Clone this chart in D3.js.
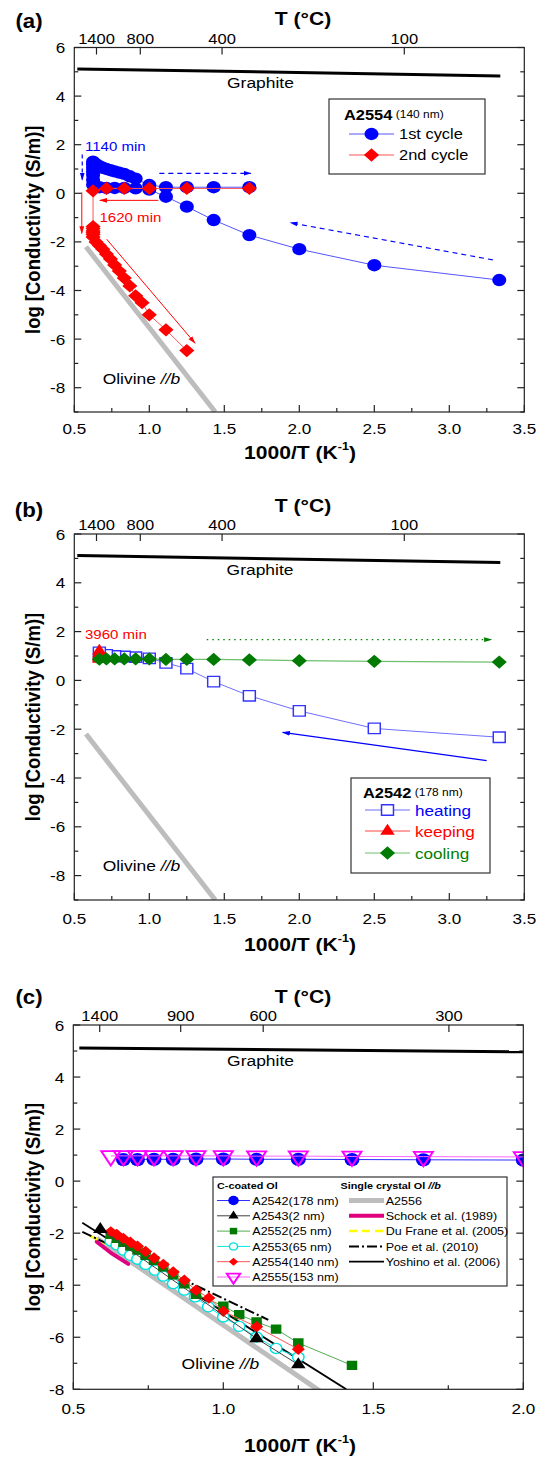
<!DOCTYPE html>
<html lang="en">
<head>
<meta charset="UTF-8">
<title>Conductivity of C-coated olivine</title>
<script src="https://cdn.jsdelivr.net/npm/d3@7"></script>
<style>
    html, body { margin: 0; background: #fff; }
    svg text { font-family: Arial, "Liberation Sans", sans-serif; }
</style>
</head>
<body>
<div id="vis"></div>
<script>
// ---------- data (x = 1000/T in K^-1, y = log conductivity S/m) ----------
var graphiteX = [0.52, 3.34];
var graphiteY = [5.12, 4.83];
var olivineX = [0.578, 1.44];
var olivineY = [-2.2, -9.0];

// top axis, temperature labels and where they sit in 1000/T
var topLabelsAB = ["1400", "800", "400", "100"];
var topValuesAB = [0.648, 0.94, 1.485, 2.70];
var topLabelsC = ["1400", "900", "600", "300"];
var topValuesC = [0.588, 0.858, 1.133, 1.752];

// (a) A2554
var cycle1X = [3.333, 2.5, 2.0, 1.667, 1.429, 1.25, 1.111, 1.0, 0.909, 0.833, 0.769, 0.714, 0.667,
               0.625, 0.625, 0.625, 0.625, 0.625, 0.625, 0.625,
               0.645, 0.667, 0.69, 0.714, 0.741, 0.769, 0.8, 0.833, 0.87, 0.909, 1.0, 1.111, 1.25, 1.429, 1.667];
var cycle1Y = [-3.57, -2.96, -2.3, -1.72, -1.1, -0.55, -0.14, 0.15, 0.2, 0.22, 0.22, 0.22, 0.25,
               0.35, 0.55, 0.75, 0.9, 1.05, 1.2, 1.3,
               1.2, 1.12, 1.05, 1.0, 0.95, 0.9, 0.85, 0.8, 0.7, 0.6, 0.34, 0.25, 0.25, 0.25, 0.25];
var cycle2X = [1.667, 1.25, 1.0, 0.833, 0.714, 0.625,
               0.625, 0.625, 0.625, 0.625, 0.625, 0.625,
               0.645, 0.667, 0.69, 0.714, 0.741, 0.769, 0.8, 0.833, 0.87, 0.909, 0.952, 1.0, 1.111, 1.25];
var cycle2Y = [0.2, 0.2, 0.2, 0.2, 0.2, 0.1,
               -1.37, -1.45, -1.55, -1.62, -1.7, -1.8,
               -2.0, -2.15, -2.3, -2.5, -2.7, -2.95, -3.2, -3.49, -3.81, -4.22, -4.5, -5.0, -5.62, -6.47];

// (b) A2542
var heatingX = [3.333, 2.5, 2.0, 1.667, 1.429, 1.25, 1.111, 1.0, 0.909, 0.833, 0.769, 0.714, 0.667];
var heatingY = [-2.33, -1.97, -1.25, -0.63, -0.05, 0.48, 0.72, 0.9, 0.95, 0.98, 1.0, 1.05, 1.15];
var keepingX = [0.667, 0.667, 0.667, 0.667, 0.667, 0.667];
var keepingY = [1.2, 1.1, 1.02, 0.95, 0.9, 0.87];
var coolingX = [0.667, 0.714, 0.769, 0.833, 0.909, 1.0, 1.111, 1.25, 1.429, 1.667, 2.0, 2.5, 3.333];
var coolingY = [0.87, 0.88, 0.88, 0.88, 0.88, 0.88, 0.86, 0.86, 0.86, 0.84, 0.81, 0.78, 0.75];

// (c) all C-coated samples
var a2542X = [0.667, 0.714, 0.769, 0.833, 0.909, 1.0, 1.111, 1.25, 1.429, 1.667, 2.0];
var a2542Y = [0.83, 0.83, 0.84, 0.84, 0.85, 0.85, 0.84, 0.84, 0.83, 0.82, 0.81];
var a2543X = [0.59, 1.111, 1.25];
var a2543Y = [-1.85, -6.05, -7.05];
var a2552X = [0.625, 0.645, 0.667, 0.69, 0.714, 0.741, 0.769, 0.8, 0.833, 0.87, 0.909, 1.0, 1.053, 1.111, 1.176, 1.25, 1.429];
var a2552Y = [-2.05, -2.2, -2.35, -2.5, -2.65, -2.85, -3.05, -3.3, -3.6, -3.95, -4.35, -4.8, -5.13, -5.41, -5.69, -6.22, -7.08];
var a2553X = [0.625, 0.645, 0.667, 0.69, 0.714, 0.741, 0.772, 0.8, 0.833, 0.87, 0.906, 0.95, 1.0, 1.053, 1.111, 1.176, 1.25];
var a2553Y = [-2.3, -2.45, -2.65, -2.85, -3.0, -3.2, -3.42, -3.65, -3.94, -4.19, -4.45, -4.83, -5.22, -5.58, -5.99, -6.43, -6.76];
var a2554X = [0.625, 0.645, 0.667, 0.69, 0.714, 0.741, 0.769, 0.8, 0.833, 0.87, 0.909, 0.952, 1.0, 1.111, 1.25];
var a2554Y = [-1.95, -2.05, -2.2, -2.35, -2.5, -2.7, -2.95, -3.2, -3.49, -3.81, -4.19, -4.49, -5.0, -5.6, -6.46];
var a2555X = [0.625, 0.667, 0.714, 0.769, 0.833, 0.909, 1.0, 1.111, 1.25, 1.429, 1.667, 2.0];
var a2555Y = [0.97, 0.97, 0.97, 0.97, 0.97, 0.97, 0.97, 0.96, 0.96, 0.95, 0.94, 0.93];

// single crystal references
var schockX = [0.578, 0.628, 0.683];
var schockY = [-2.33, -2.78, -3.18];
var duFraneX = [0.556, 0.74];
var duFraneY = [-2.1, -3.15];
var poeX = [0.53, 1.15];
var poeY = [-1.95, -5.33];
var yoshinoX = [0.53, 1.41];
var yoshinoY = [-1.6, -8.0];

// ---------- drawing ----------
var W = 539, H = 1458;
var SX = 1.14;   // the source figure is stretched sideways a little

var svg = d3.select('#vis').append('svg').attr('width', W).attr('height', H);
svg.append('rect').attr('width', W).attr('height', H).attr('fill', '#fff');
var defs = svg.append('defs');

function arrowHead(id, color) {
    defs.append('marker')
        .attr('id', id).attr('viewBox', '0 0 10 10')
        .attr('refX', 9).attr('refY', 5)
        .attr('markerWidth', 8).attr('markerHeight', 8)
        .attr('markerUnits', 'userSpaceOnUse').attr('orient', 'auto')
        .append('path').attr('d', 'M0,2L10,5L0,8z').attr('fill', color);
}
arrowHead('arBlue', '#0000ff');
arrowHead('arRed', '#ff0000');
arrowHead('arGreen', '#008000');

function put(g, x, y, size, o) {
    o = o || {};
    var tr = 'translate(' + x + ',' + y + ') scale(' + SX + ',1)' + (o.rotate ? ' rotate(' + o.rotate + ')' : '');
    return g.append('text')
        .attr('transform', tr)
        .attr('font-size', size)
        .attr('text-anchor', o.anchor || 'start')
        .attr('dominant-baseline', o.baseline || 'central')
        .attr('font-weight', o.bold ? 'bold' : null)
        .attr('font-style', o.italic ? 'italic' : null)
        .attr('fill', o.color || '#000');
}

function symPath(st) {
    return d3.symbol().type(st.sym).size(st.size)();
}
function symTransform(px, py, st) {
    return 'translate(' + px + ',' + py + ') scale(' + SX + ',1) rotate(' + (st.rot || 0) + ')';
}

function drawSeries(g, sc, xs, ys, st) {
    var pts = xs.map(function(v, i) { return [v, ys[i]]; });
    if (st.line) {
        g.append('path').datum(pts)
            .attr('fill', 'none')
            .attr('stroke', st.line)
            .attr('stroke-width', st.lw || 1)
            .attr('stroke-dasharray', st.dash || null)
            .attr('stroke-linecap', st.cap || 'butt')
            .attr('d', d3.line().x(function(d) { return sc.x(d[0]); }).y(function(d) { return sc.y(d[1]); }));
    }
    if (st.sym) {
        g.selectAll(null).data(pts).enter().append('path')
            .attr('d', symPath(st))
            .attr('transform', function(d) { return symTransform(sc.x(d[0]), sc.y(d[1]), st); })
            .attr('fill', st.fill || 'none')
            .attr('stroke', st.stroke || 'none')
            .attr('stroke-width', st.sw || 1);
    }
}

function arrow(g, sc, x1, y1, x2, y2, color, head, lw, dash) {
    g.append('line')
        .attr('x1', sc.x(x1)).attr('y1', sc.y(y1))
        .attr('x2', sc.x(x2)).attr('y2', sc.y(y2))
        .attr('stroke', color).attr('stroke-width', lw)
        .attr('stroke-dasharray', dash || null)
        .attr('marker-end', 'url(#' + head + ')');
}

function legendItem(g, x1, x2, y, st) {
    if (st.line) {
        g.append('line').attr('x1', x1).attr('x2', x2).attr('y1', y).attr('y2', y)
            .attr('stroke', st.line).attr('stroke-width', st.lw || 1)
            .attr('stroke-dasharray', st.dash || null);
    }
    if (st.sym) {
        g.append('path').attr('d', symPath(st))
            .attr('transform', symTransform((x1 + x2) / 2, y, st))
            .attr('fill', st.fill || 'none')
            .attr('stroke', st.stroke || 'none')
            .attr('stroke-width', st.sw || 1);
    }
}

function makePanel(p) {
    var x = d3.scaleLinear().domain(p.xd).range([p.left, p.right]);
    var y = d3.scaleLinear().domain(p.yd).range([p.bottom, p.top]);
    var g = svg.append('g');

    defs.append('clipPath').attr('id', 'clip-' + p.id)
        .append('rect').attr('x', p.left).attr('y', p.top)
        .attr('width', p.right - p.left).attr('height', p.bottom - p.top);
    var plot = g.append('g').attr('clip-path', 'url(#clip-' + p.id + ')');

    var ax = g.append('g').attr('stroke', '#222').attr('stroke-width', 1.2);
    ax.append('rect').attr('x', p.left).attr('y', p.top)
        .attr('width', p.right - p.left).attr('height', p.bottom - p.top).attr('fill', 'none');

    // bottom ticks (inward) and labels
    var xMaj = d3.range(p.xd[0], p.xd[1] + 1e-9, 0.5);
    var xMin = d3.range(p.xd[0] + 0.25, p.xd[1], 0.5);
    xMaj.forEach(function(v) {
        ax.append('line').attr('x1', x(v)).attr('x2', x(v)).attr('y1', p.bottom).attr('y2', p.bottom - 7);
        put(g, x(v), p.bottom + p.xLabOff, 15, {anchor: 'middle'}).text(v.toFixed(1));
    });
    xMin.forEach(function(v) {
        ax.append('line').attr('x1', x(v)).attr('x2', x(v)).attr('y1', p.bottom).attr('y2', p.bottom - 4);
    });

    // left / right ticks
    d3.range(Math.ceil(p.yd[0]), p.yd[1] + 1e-9, 1).forEach(function(v) {
        var major = (v % 2 === 0);
        var len = major ? 7 : 4;
        ax.append('line').attr('x1', p.left).attr('x2', p.left + len).attr('y1', y(v)).attr('y2', y(v));
        ax.append('line').attr('x1', p.right).attr('x2', p.right - len).attr('y1', y(v)).attr('y2', y(v));
        if (major) put(g, p.left - 9, y(v), 15, {anchor: 'end'}).text(v);
    });

    // top temperature ticks
    p.topValues.forEach(function(v, i) {
        ax.append('line').attr('x1', x(v)).attr('x2', x(v)).attr('y1', p.top).attr('y2', p.top + 7);
        put(g, x(v), p.top - 9, 14.5, {anchor: 'middle'}).text(p.topLabels[i]);
    });

    // titles
    var tt = put(g, 303, p.top - 29, 18.5, {anchor: 'middle', bold: true});
    tt.append('tspan').text('T (\u00B0C)');
    put(g, 29, p.tagY, 19.5, {anchor: 'middle', bold: true}).text('(' + p.id + ')');
    var xt = put(g, 300, p.xTitleY, 18.5, {anchor: 'middle', bold: true});
    xt.append('tspan').text('1000/T (K');
    xt.append('tspan').attr('font-size', 11).attr('dy', -7).text('-1');
    xt.append('tspan').attr('dy', 7).text(')');
    put(g, 40, (p.top + p.bottom) / 2, 18.5, {anchor: 'middle', bold: true, baseline: 'auto', rotate: -90})
        .text('log [Conductivity (S/m)]');

    return {x: x, y: y, g: g, plot: plot};
}

var layout = [
    {id: 'a', top: 47.5, bottom: 412, left: 74.3, right: 524.3, xd: [0.5, 3.5], yd: [-9, 6],
     tagY: 21.5, xTitleY: 452, xLabOff: 16, topValues: topValuesAB, topLabels: topLabelsAB},
    {id: 'b', top: 534, bottom: 900, left: 74.3, right: 524.3, xd: [0.5, 3.5], yd: [-9, 6],
     tagY: 510, xTitleY: 944, xLabOff: 18, topValues: topValuesAB, topLabels: topLabelsAB},
    {id: 'c', top: 1025, bottom: 1389.3, left: 73.3, right: 523.3, xd: [0.5, 2.0], yd: [-8, 6],
     tagY: 997, xTitleY: 1445, xLabOff: 19, topValues: topValuesC, topLabels: topLabelsC}
];

var graphiteStyle = {line: '#000', lw: 3};
var olivineStyle = {line: '#bdbdbd', lw: 5};

function graphiteAndOlivine(P, gx, gy, ox, oy) {
    drawSeries(P.plot, P, graphiteX, graphiteY, graphiteStyle);
    drawSeries(P.plot, P, olivineX, olivineY, olivineStyle);
    put(P.g, P.x(gx), P.y(gy), 15.3, {anchor: 'middle'}).text('Graphite');
    var ol = put(P.g, P.x(ox), P.y(oy), 15.3);
    ol.append('tspan').text('Olivine ');
    ol.append('tspan').attr('font-style', 'italic').text('//b');
}

// ----- panel (a) -----
var A = makePanel(layout[0]);
graphiteAndOlivine(A, 1.741, 4.55, 0.689, -7.61);

var st1 = {line: '#5555ff', lw: 1, sym: d3.symbolCircle, size: 120, fill: '#0000ff'};
var st2 = {line: '#ff5555', lw: 1, sym: d3.symbolSquare, size: 88, rot: 45, fill: '#ff0000'};
drawSeries(A.plot, A, cycle1X, cycle1Y, st1);
drawSeries(A.plot, A, cycle2X, cycle2Y, st2);

arrow(A.plot, A, 0.553, 1.6, 0.553, 0.55, '#0000ff', 'arBlue', 1.2, '4,3');
arrow(A.plot, A, 1.067, 0.82, 1.676, 0.82, '#0000ff', 'arBlue', 1.2, '5,4');
arrow(A.plot, A, 3.29, -2.74, 1.94, -1.21, '#0000ff', 'arBlue', 1.2, '5,4');
arrow(A.plot, A, 1.06, -0.29, 0.67, -0.29, '#ff0000', 'arRed', 1);
arrow(A.plot, A, 0.55, 0.04, 0.55, -1.65, '#ff0000', 'arRed', 1);
arrow(A.plot, A, 0.716, -1.89, 1.305, -6.17, '#ff0000', 'arRed', 1);
put(A.g, A.x(0.571), A.y(1.92), 13.2, {color: '#0000ff'}).text('1140 min');
put(A.g, A.x(0.668), A.y(-0.98), 13.2, {color: '#ff0000'}).text('1620 min');

var legA = A.g.append('g');
legA.append('rect').attr('x', 329).attr('y', 99).attr('width', 156).attr('height', 75)
    .attr('fill', '#fff').attr('stroke', '#333').attr('stroke-width', 1.2);
var tA = put(legA, 344, 114.5, 14.4, {bold: true});
tA.append('tspan').text('A2554');
tA.append('tspan').attr('font-weight', 'normal').attr('font-size', 10.5).attr('dx', 3).text('(140 nm)');
legendItem(legA, 349, 394, 134, st1);
put(legA, 399, 134, 14.4).text('1st cycle');
legendItem(legA, 349, 394, 155, st2);
put(legA, 399, 155, 14.4).text('2nd cycle');

// ----- panel (b) -----
var B = makePanel(layout[1]);
graphiteAndOlivine(B, 1.738, 4.54, 0.689, -7.6);

var stH = {line: '#6f6fff', lw: 1, sym: d3.symbolSquare, size: 110, fill: '#fff', stroke: '#3333ff', sw: 1.3};
var stK = {line: '#ff4444', lw: 1, sym: d3.symbolTriangle, size: 70, fill: '#ff0000'};
var stC = {line: '#6fbf6f', lw: 1.2, sym: d3.symbolSquare, size: 88, rot: 45, fill: '#007a00'};
drawSeries(B.plot, B, heatingX, heatingY, stH);
drawSeries(B.plot, B, keepingX, keepingY, stK);
drawSeries(B.plot, B, coolingX, coolingY, stC);

arrow(B.plot, B, 1.383, 1.67, 3.28, 1.67, '#008000', 'arGreen', 1.3, '1.5,4');
arrow(B.plot, B, 3.249, -3.29, 1.889, -2.13, '#0000ff', 'arBlue', 1.3);
put(B.g, B.x(0.571), B.y(1.9), 13.2, {color: '#ff0000'}).text('3960 min');

var legB = B.g.append('g');
legB.append('rect').attr('x', 351).attr('y', 778).attr('width', 139).attr('height', 95)
    .attr('fill', '#fff').attr('stroke', '#333').attr('stroke-width', 1.2);
var tB = put(legB, 363, 792, 14.4, {bold: true});
tB.append('tspan').text('A2542');
tB.append('tspan').attr('font-weight', 'normal').attr('font-size', 10.5).attr('dx', 3).text('(178 nm)');
legendItem(legB, 365, 410, 810, stH);
put(legB, 415, 810, 15, {color: '#0000ff'}).text('heating');
legendItem(legB, 365, 410, 831, stK);
put(legB, 415, 831, 15, {color: '#ff0000'}).text('keeping');
legendItem(legB, 365, 410, 853, stC);
put(legB, 415, 853, 15, {color: '#008000'}).text('cooling');

// ----- panel (c) -----
var C = makePanel(layout[2]);
drawSeries(C.plot, C, graphiteX, graphiteY, graphiteStyle);
put(C.g, C.x(1.124), C.y(4.65), 15.3, {anchor: 'middle'}).text('Graphite');

var stOl = {line: '#bdbdbd', lw: 5};
var stSchock = {line: '#e0007f', lw: 4, cap: 'round'};
var stDuFrane = {line: '#ffff00', lw: 2.5, dash: '8,5'};
var stPoe = {line: '#000', lw: 2, dash: '10,3,2,3'};
var stYoshino = {line: '#000', lw: 1.8};
drawSeries(C.plot, C, olivineX, olivineY, stOl);
drawSeries(C.plot, C, schockX, schockY, stSchock);
drawSeries(C.plot, C, duFraneX, duFraneY, stDuFrane);
drawSeries(C.plot, C, poeX, poeY, stPoe);
drawSeries(C.plot, C, yoshinoX, yoshinoY, stYoshino);

var s2542 = {line: '#3030ff', lw: 1, sym: d3.symbolCircle, size: 135, fill: '#0000ff'};
var s2543 = {line: '#404040', lw: 1, sym: d3.symbolTriangle, size: 70, fill: '#000'};
var s2552 = {line: '#55aa55', lw: 1, sym: d3.symbolSquare, size: 85, fill: '#007a00'};
var s2553 = {line: '#00e5e5', lw: 1, sym: d3.symbolCircle, size: 80, fill: '#fff', stroke: '#00e0e0', sw: 1.3};
var s2554 = {line: '#ff5555', lw: 1, sym: d3.symbolSquare, size: 66, rot: 45, fill: '#ff0000'};
var s2555 = {line: '#ff66ff', lw: 1, sym: d3.symbolTriangle, size: 120, rot: 180, fill: 'none', stroke: '#ff00ff', sw: 1.8};
drawSeries(C.plot, C, a2542X, a2542Y, s2542);
drawSeries(C.plot, C, a2553X, a2553Y, s2553);
drawSeries(C.plot, C, a2552X, a2552Y, s2552);
drawSeries(C.plot, C, a2554X, a2554Y, s2554);
drawSeries(C.plot, C, a2543X, a2543Y, s2543);
drawSeries(C.plot, C, a2555X, a2555Y, s2555);

var olC = put(C.g, C.x(0.861), C.y(-6.99), 15.3);
olC.append('tspan').text('Olivine ');
olC.append('tspan').attr('font-style', 'italic').text('//b');

var legC = C.g.append('g');
legC.append('rect').attr('x', 213).attr('y', 1177).attr('width', 294).attr('height', 109)
    .attr('fill', '#fff').attr('stroke', '#333').attr('stroke-width', 1.2);
put(legC, 217, 1185.5, 9.5, {bold: true}).text('C-coated Ol');
var hC = put(legC, 340.5, 1185.5, 9.5, {bold: true});
hC.append('tspan').text('Single crystal Ol ');
hC.append('tspan').attr('font-style', 'italic').text('//b');

var samples = ['A2542(178 nm)', 'A2543(2 nm)', 'A2552(25 nm)', 'A2553(65 nm)', 'A2554(140 nm)', 'A2555(153 nm)'];
var sampleStyles = [s2542, s2543, s2552, s2553, s2554, s2555];
samples.forEach(function(name, i) {
    var yy = 1200.5 + i * 15.3;
    var st = Object.assign({}, sampleStyles[i]);
    st.size = st.size * 0.5;
    legendItem(legC, 217, 250, yy, st);
    put(legC, 252.3, yy, 11).text(name);
});
var refs = ['A2556', 'Schock et al. (1989)', 'Du Frane et al. (2005)', 'Poe et al. (2010)', 'Yoshino et al. (2006)'];
var refStyles = [stOl, stSchock, stDuFrane, stPoe, stYoshino];
refs.forEach(function(name, i) {
    var yy = 1200.5 + i * 15.3;
    var st = Object.assign({}, refStyles[i]);
    legendItem(legC, 349, 384, yy, st);
    put(legC, 385.7, yy, 11).text(name);
});
</script>
</body>
</html>
